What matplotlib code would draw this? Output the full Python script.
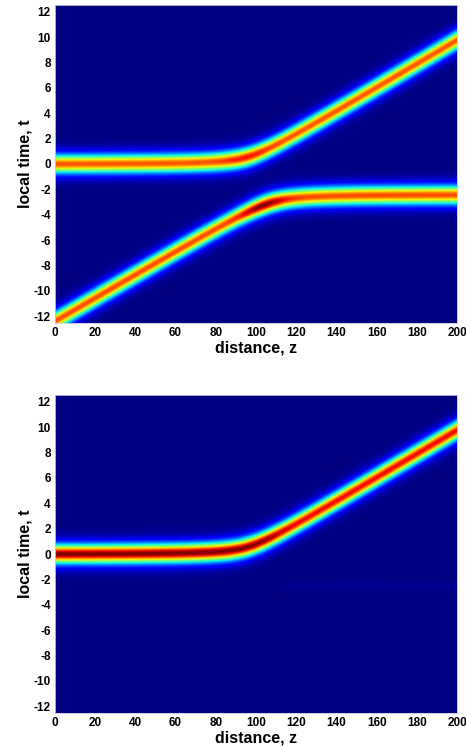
import numpy as np
import matplotlib
matplotlib.use("Agg")
import matplotlib.pyplot as plt

plt.rcParams["axes.unicode_minus"] = False

# ---- data ----
z_range = [0, 200]
t_range = [-12.55, 12.55]
x_ticks = [0, 20, 40, 60, 80, 100, 120, 140, 160, 180, 200]
y_ticks = [-12, -10, -8, -6, -4, -2, 0, 2, 4, 6, 8, 10, 12]
pulse_width = 0.67

# soliton A: flat then drifting up
a_level = 0.0
a_bend_z = 96.0
a_slope = 0.094
a_round = 13.0
# soliton B: drifting up then flat
b_level = -2.35
b_bend_z = 108.0
b_slope = 0.0925
b_round = 14.0

# top panel amplitudes
top_a_amp = 0.82
top_a_bump = 0.07
top_a_bump_z = 95.0
top_b_amp = 0.83
top_b_bump = 0.17
top_b_bump_z = 104.0
bump_width = 11.0

# bottom panel amplitudes
bot_a_amp_before = 1.0
bot_a_amp_after = 0.9
bot_a_step_z = 110.0
residual_level = -2.5
residual_amp = 0.02
residual_start = 112.0

xlabel = "distance, z"
ylabel = "local time, t"

# ---- fields ----
z = np.linspace(z_range[0], z_range[1], 401)
t = np.linspace(t_range[0], t_range[1], 501)
Z, T = np.meshgrid(z, t)


def center_a(zz):
    d = zz - a_bend_z
    return a_level + a_slope / 2 * (d + np.sqrt(d ** 2 + a_round ** 2))


def center_b(zz):
    d = b_bend_z - zz
    return b_level - b_slope / 2 * (d + np.sqrt(d ** 2 + b_round ** 2))


def sech2(x):
    return 1.0 / np.cosh(x) ** 2


amp_a_top = top_a_amp + top_a_bump * np.exp(-((Z - top_a_bump_z) / bump_width) ** 2)
amp_b_top = top_b_amp + top_b_bump * np.exp(-((Z - top_b_bump_z) / bump_width) ** 2)
field_top = (amp_a_top * sech2((T - center_a(Z)) / pulse_width)
             + amp_b_top * sech2((T - center_b(Z)) / pulse_width))

step = 0.5 * (1 + np.tanh((Z - bot_a_step_z) / 8.0))
amp_a_bot = bot_a_amp_before + (bot_a_amp_after - bot_a_amp_before) * step
res_step = 0.5 * (1 + np.tanh((Z - residual_start) / 3.0))
field_bot = (amp_a_bot * sech2((T - center_a(Z)) / pulse_width)
             + residual_amp * res_step * sech2((T - residual_level) / 0.4))

# ---- figure ----
fig = plt.figure(figsize=(4.66, 7.48), dpi=100)
ax_pos = [[0.118, 0.5682, 0.8627, 0.4251],
          [0.118, 0.0468, 0.8627, 0.4251]]

for pos, field in zip(ax_pos, [field_top, field_bot]):
    ax = fig.add_axes(pos)
    ax.pcolormesh(z, t, field, cmap="jet", shading="gouraud",
                  vmin=0, vmax=field.max(), rasterized=True)
    ax.set_xlim(z_range)
    ax.set_ylim(t_range)
    ax.set_xticks(x_ticks)
    ax.set_yticks(y_ticks)
    ax.tick_params(length=0, pad=3, labelsize=8.5)
    for lab in ax.get_xticklabels() + ax.get_yticklabels():
        lab.set_fontweight("bold")
        lab.set_family("Liberation Sans")
    for sp in ax.spines.values():
        sp.set_color("#c8c8e0")
        sp.set_linewidth(0.6)
    ax.set_xlabel(xlabel, fontsize=11.5, fontweight="bold",
                  family="Liberation Sans", labelpad=1)
    ax.set_ylabel(ylabel, fontsize=11.5, fontweight="bold",
                  family="Liberation Sans", labelpad=1)

fig.savefig("out.png", dpi=100)
